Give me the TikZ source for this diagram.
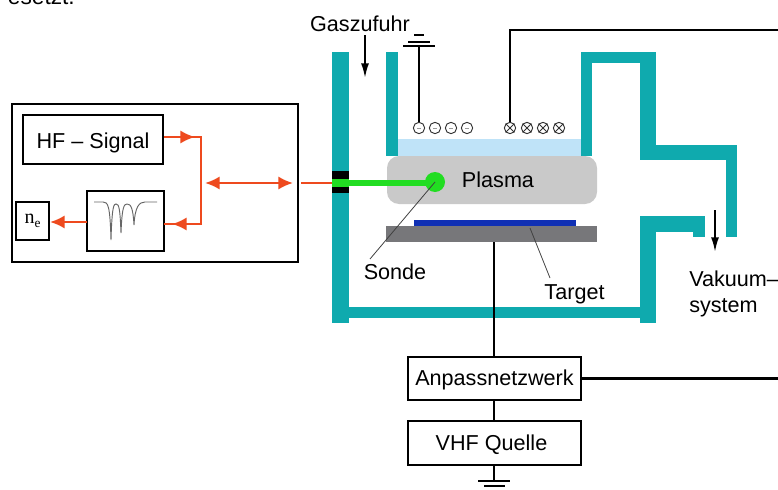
\documentclass[tikz,border=0pt]{standalone}
\usepackage{fontspec}
\setmainfont{Liberation Sans}
\usetikzlibrary{arrows.meta}
\definecolor{wall}{HTML}{0FAAAE}
\definecolor{sig}{HTML}{EE4A1E}
\definecolor{plasmagray}{HTML}{C9C9C9}
\definecolor{targetgray}{HTML}{77777A}
\definecolor{glow}{HTML}{BFE3F8}
\definecolor{tblue}{HTML}{1030B4}
\definecolor{sgreen}{HTML}{22DD22}
\tikzset{
  wallfill/.style={fill=wall,draw=none},
  box/.style={draw=black,line width=1.6pt,inner sep=0pt,fill=white},
  wire/.style={draw=black,line width=1.6pt},
  lab/.style={inner sep=0pt,font=\fontsize{16.2}{16.2}\selectfont},
  sigline/.style={draw=sig,line width=1.9pt},
  sigtip/.style={-{Latex[length=11pt,width=10pt]}},
  thin lead/.style={draw=black!75,line width=0.6pt},
  blackarrow/.style={draw=black,line width=1.5pt,-{Latex[length=11pt,width=6pt]}},
  coil/.style={circle,draw=black!80,line width=0.7pt,minimum size=8.5pt,inner sep=0pt,fill=white},
}
\begin{document}
\begin{tikzpicture}[x=0.75pt,y=-0.75pt]
\useasboundingbox (0,0) rectangle (778,489);
\clip (0,0) rectangle (778,489);
% clipped running text of the page above
\node[lab,anchor=base east,font=\fontsize{17}{17}\selectfont] (cut) at (75,4) {esetzt.};
% chamber walls
\fill[wallfill] (332,52) rectangle (349,323);
\fill[wallfill] (332,307) rectangle (656,318);
\fill[wallfill] (386,52) rectangle (398,156);
\fill[wallfill] (581,52) rectangle (592,156);
\fill[wallfill] (581,52) rectangle (656,63);
\fill[wallfill] (640,52) rectangle (656,160);
\fill[wallfill] (640,145) rectangle (737,160);
\fill[wallfill] (726,145) rectangle (737,237);
\fill[wallfill] (640,216) rectangle (656,323);
\fill[wallfill] (640,216) rectangle (705,232);
\fill[wallfill] (693,216) rectangle (705,237);
% plasma and target
\fill[glow] (398,139) rectangle (581,157);
\fill[plasmagray,rounded corners=9pt] (387,156) rectangle (597,204);
\fill[targetgray] (386,226) rectangle (597,242);
\fill[tblue] (414,220) rectangle (576,226);
\node[lab] (plasma) at (498,180) {Plasma};
% probe
\fill[black] (332,171) rectangle (349,193);
\fill[sgreen] (332,179) rectangle (349,187);
\coordinate (port) at (332,183);
\coordinate (portin) at (349,183);
\node[circle,fill=sgreen,minimum size=15pt,inner sep=0pt] (tip) at (435,182) {};
\draw[sgreen,line width=4.5pt] (portin) -- (portin -| tip.center);
% leads
\node[lab] (sonde) at (395,272) {Sonde};
\node[lab] (target) at (574.5,294) {Target};
\coordinate (sondeend) at (370,259);
\coordinate (targetend) at (550,278);
\coordinate (targetin) at (530,228);
\draw[thin lead] (sondeend) -- (tip.center);
\draw[thin lead] (targetend) -- (targetin);
% boxes at the bottom
\node[box,minimum width=129.5pt,minimum height=32pt,lab,text height=10pt,text depth=0pt] (match) at (494.5,378.5) {Anpassnetzwerk};
\node[box,minimum width=129.5pt,minimum height=33pt,lab,text height=10.5pt,text depth=0pt] (vhf) at (494.5,443) {VHF Quelle\hspace{4.5pt}\mbox{}};
\coordinate (tgtbottom) at (494,242);
\coordinate (gnd) at (494,481);
\coordinate (rightedge) at (778,378);
\draw[wire] (tgtbottom) -- (tgtbottom |- match.north);
\draw[wire] (match.south -| gnd) -- (vhf.north -| gnd);
\draw[wire] (vhf.south -| gnd) -- (gnd);
\draw[wire] (match.east) -- (match.east -| rightedge);
\draw[wire] (478,481) -- (510,481);
\draw[wire] (484,486) -- (505,486);
% coils
\foreach \n/\x in {a/419,b/435,c/451,d/467}{
  \node[coil] (m\n) at (\x,128) {};
  \draw[black!40,line width=0.5pt] (\x-2,128) -- (\x+2,128);
}
\foreach \n/\x in {a/510,b/527,c/543,d/559}{
  \node[coil] (p\n) at (\x,128) {};
  \draw[black!80,line width=0.6pt] (p\n.45) -- (p\n.225) (p\n.135) -- (p\n.315);
}
% upper ground and wire
\coordinate (ugnd) at (419,46);
\draw[wire] (ma.north) -- (ugnd);
\draw[wire] (403,46) -- (435,46);
\draw[wire] (408,42) -- (430,42);
\draw[wire] (414,35) -- (424,35);
\coordinate (wtop) at (510,30);
\coordinate (wright) at (778,30);
\draw[wire] (pa.north) -- (wtop) -- (wright);
% gas and vacuum
\node[lab] (gas) at (360,24) {Gaszufuhr};
\coordinate (gasa) at (365,35);
\coordinate (gasb) at (365,78);
\draw[blackarrow] (gasa) -- (gasb);
\coordinate (vaca) at (715,210);
\coordinate (vacb) at (715,252);
\draw[blackarrow] (vaca) -- (vacb);
\node[lab,anchor=base west] (vak1) at (689,286) {Vakuum–};
\node[lab,anchor=base west] (vak2) at (689,312) {system};
% instrument box
\node[box,minimum width=214.5pt,minimum height=118.5pt] (outer) at (155,183) {};
\node[box,minimum width=105pt,minimum height=36.75pt,lab,text height=12.8pt,text depth=0pt] (hf) at (93,139.5) {HF – Signal};
\node[box,minimum width=57.75pt,minimum height=45pt] (spec) at (125.5,221) {};
\node[box,minimum width=24.75pt,minimum height=28.5pt,font=\fontsize{15}{15}\selectfont] (ne) at (32.5,221) {\setmainfont{Liberation Serif}n\raisebox{-2.5pt}{\fontsize{10}{10}\selectfont e}};
\draw[black!60,line width=0.7pt] (94,202) -- (103,202)
  .. controls (108,202) and (110,205) .. (111,240)
  .. controls (112,205) and (114,204) .. (116,204)
  .. controls (119,204) and (120,208) .. (121,233)
  .. controls (122,207) and (124,204) .. (127,204)
  .. controls (131,204) and (133,208) .. (134,225)
  .. controls (135,207) and (139,202) .. (145,202) -- (157,202);
% signal lines
\coordinate (j1) at (201,137);
\coordinate (j2) at (201,224);
\coordinate (hfout) at (164,137);
\coordinate (specin) at (164,224);
\coordinate (da) at (205,183);
\coordinate (db) at (293,183);
\coordinate (pout) at (301,183);
\coordinate (nefrom) at (87,222);
\coordinate (neto) at (50,222);
\draw[sigline] (hfout) -- (j1) -- (j2) -- (specin);
\draw[sigline,sigtip] (hfout) -- (195,137);
\draw[sigline,sigtip] (j2) -- (172,224);
\draw[sigline,{Latex[length=11pt,width=10pt]}-{Latex[length=11pt,width=10pt]}] (da) -- (db);
\draw[sigline] (pout) -- (port);
\draw[sigline,sigtip] (nefrom) -- (neto);
\end{tikzpicture}
\end{document}
